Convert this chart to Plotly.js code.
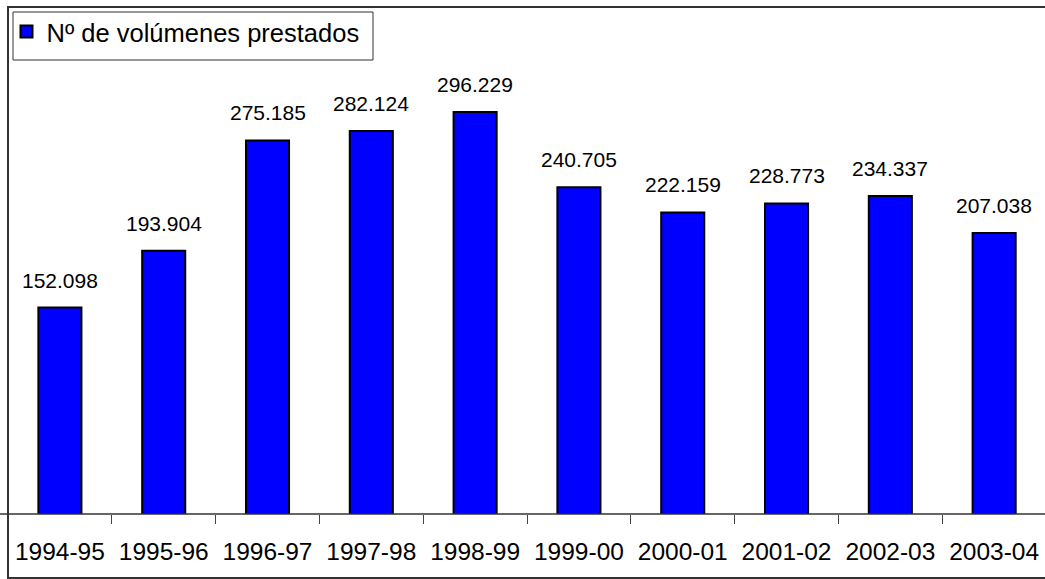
<!DOCTYPE html>
<html>
<head>
<meta charset="utf-8">
<script src="https://cdn.plot.ly/plotly-3.0.1.min.js"></script>
<style>html,body{margin:0;padding:0;background:#fff;}#chart{width:1045px;height:579px;}</style>
</head>
<body>
<div id="chart"></div>
<script>
var categories = ["1994-95","1995-96","1996-97","1997-98","1998-99","1999-00","2000-01","2001-02","2002-03","2003-04"];
var volumes = [152098, 193904, 275185, 282124, 296229, 240705, 222159, 228773, 234337, 207038];
var seriesName = "Nº de volúmenes prestados";

function fmt(v){ return String(v).replace(/\B(?=(\d{3})+(?!\d))/g, '.'); }

var FONT = "Liberation Sans, Arial, sans-serif";
var PW = 1037, PH = 507; // plot area size in px
function px(x){ return (x - 8) / PW; }
function py(y){ return 1 - (y - 7) / PH; }

var trace = {
  type: 'bar',
  x: categories,
  y: volumes,
  name: seriesName,
  showlegend: true,
  marker: {color: '#0000FF', line: {color: '#000000', width: 2}},
  hoverinfo: 'x+y'
};

var annotations = categories.map(function(c, i){
  return {
    x: c, y: volumes[i], xref: 'x', yref: 'y',
    text: fmt(volumes[i]), showarrow: false,
    yanchor: 'bottom', yshift: 14,
    font: {family: FONT, size: 21, color: '#000'}
  };
});

var layout = {
  width: 1045, height: 579,
  margin: {l: 8, r: 0, t: 7, b: 65, pad: 0},
  paper_bgcolor: '#fff', plot_bgcolor: '#fff',
  font: {family: FONT, color: '#000'},
  bargap: 0.585,
  showlegend: true,
  legend: {
    xref: 'paper', yref: 'paper',
    x: px(6.5), y: py(8.5), xanchor: 'left', yanchor: 'top',
    borderwidth: 0, bgcolor: 'rgba(0,0,0,0)',
    font: {family: FONT, size: 25.5, color: '#000'}
  },
  xaxis: {
    type: 'category',
    range: [-0.5, 9.49],
    tickson: 'boundaries',
    tickangle: 0,
    ticks: 'outside', ticklen: 9, tickwidth: 1, tickcolor: '#444',
    ticklabelstandoff: 20,
    showline: false, showgrid: false, zeroline: false,
    tickfont: {family: FONT, size: 24.5, color: '#000'},
    fixedrange: true
  },
  yaxis: {
    range: [0, 373500],
    showticklabels: false, ticks: '', showgrid: false, zeroline: false, showline: false,
    fixedrange: true
  },
  shapes: [
    {type: 'rect', xref: 'paper', yref: 'paper', x0: 0, x1: 1.02, y0: py(578), y1: 1,
     line: {color: '#333', width: 2}, fillcolor: 'rgba(0,0,0,0)', layer: 'above'},
    {type: 'line', xref: 'paper', yref: 'paper', x0: px(0), x1: 1.02, y0: 0, y1: 0,
     line: {color: '#333', width: 1.5}, layer: 'above'},
    {type: 'rect', xref: 'paper', yref: 'paper', x0: px(13), x1: px(373), y0: py(60), y1: py(12),
     line: {color: '#333', width: 1}, fillcolor: '#ffffff', layer: 'below'}
  ],
  annotations: annotations
};

Plotly.newPlot('chart', [trace], layout, {displayModeBar: false, staticPlot: true});
</script>
</body>
</html>
